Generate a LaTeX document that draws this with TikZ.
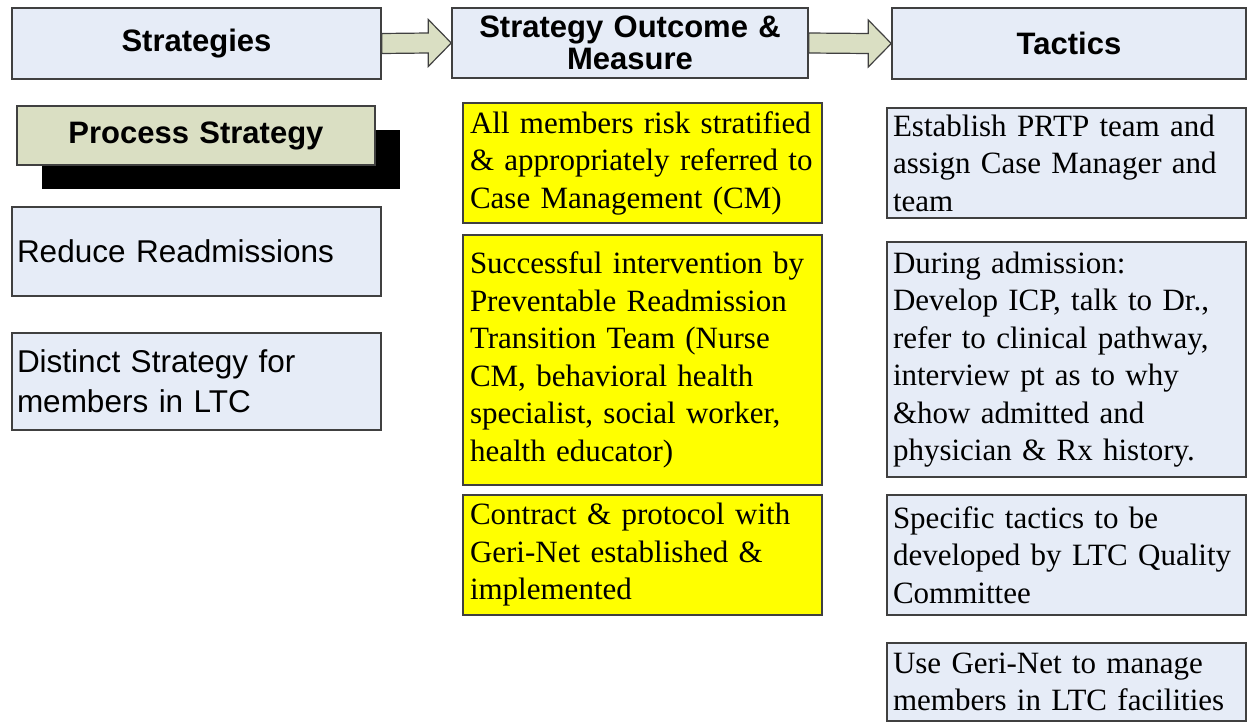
\documentclass[tikz,border=0pt]{standalone}
\usepackage{fontspec}
\setmainfont{Liberation Serif}
\setsansfont{Liberation Sans}
\usetikzlibrary{calc,shadows}
\definecolor{paleblue}{HTML}{E6ECF7}
\definecolor{sage}{HTML}{DADFC3}
\definecolor{frame}{HTML}{404040}
\definecolor{goalyellow}{RGB}{255,255,0}
\tikzset{
    box/.style={draw=frame, line width=1.5pt, fill=paleblue, inner sep=0pt, inner xsep=6pt, align=left},
    head/.style={box, align=center, font=\sffamily\bfseries\fontsize{31}{32}\selectfont},
    sanstext/.style={box, inner xsep=5pt, font=\sffamily\fontsize{31.5}{40}\selectfont},
    serftext/.style={box, font=\fontsize{31}{37.5}\selectfont},
    goal/.style={serftext, fill=goalyellow, inner xsep=7pt},
    fatarrow/.style={draw=frame, line width=1.2pt, fill=sage}
}
\begin{document}
\begin{tikzpicture}[x=1pt, y=-1pt]
    \useasboundingbox (0,0) rectangle (1248,723);
    \node[head, text width=357pt, minimum height=71pt] (strat) at (196.5,43.5) {Strategies};
    \node[head, text width=344pt, minimum height=70pt] (outcome) at (630,43) {Strategy Outcome \&\\Measure};
    \node[head, text width=342pt, minimum height=71pt] (tactics) at (1069,43.5) {Tactics};
    \foreach \from/\to in {strat/outcome, outcome/tactics} {
        \draw[fatarrow] ($(\from.east)+(0,-10)$) -- ($(\to.west)+(-23,-10)$) -- ++(0,-13.5) -- (\to.west)
            -- ++(-23,23.5) -- ++(0,-13.5) -- ($(\from.east)+(0,10)$) -- cycle;
    }
    \node[head, fill=sage, text width=346pt, minimum height=59pt,
        drop shadow={shadow xshift=25pt, shadow yshift=-24pt, fill=black, opacity=1}] (process) at (196,135.5) {Process Strategy};
    \node[sanstext, text width=359pt, minimum height=89pt] (reduce) at (196.5,251.5) {Reduce Readmissions};
    \node[sanstext, text width=359pt, minimum height=97pt] (distinct) at (196.5,381.5) {Distinct Strategy for\\members in LTC};
    \node[goal, text width=345pt, minimum height=120pt] (riskgoal) at (642.5,163) {All members risk stratified\\\& appropriately referred to\\Case Management (CM)};
    \node[goal, text width=345pt, minimum height=250pt] (teamgoal) at (642.5,360) {Successful intervention by\\Preventable Readmission\\Transition Team (Nurse\\CM, behavioral health\\specialist, social worker,\\health educator)};
    \node[goal, text width=345pt, minimum height=120pt] (gerigoal) at (642.5,555) {Contract \& protocol with\\Geri-Net established \&\\implemented};
    \node[serftext, text width=347pt, minimum height=110pt] (prtp) at (1066.5,163) {Establish PRTP team and\\assign Case Manager and\\team};
    \node[serftext, text width=347pt, minimum height=235pt] (admit) at (1066.5,359.5) {During admission:\\Develop ICP, talk to Dr.,\\refer to clinical pathway,\\interview pt as to why\\\&how admitted and\\physician \& Rx history.};
    \node[serftext, text width=347pt, minimum height=120pt] (ltcqc) at (1066.5,555) {Specific tactics to be\\developed by LTC Quality\\Committee};
    \node[serftext, text width=347pt, minimum height=78pt] (gerinet) at (1066.5,682) {Use Geri-Net to manage\\members in LTC facilities};
\end{tikzpicture}
\end{document}
